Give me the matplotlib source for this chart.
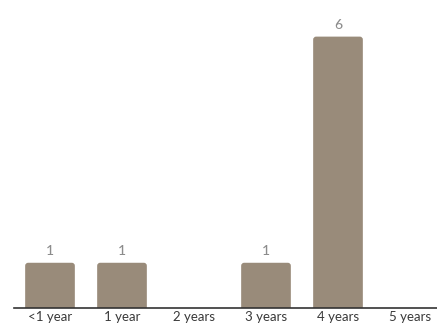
import matplotlib
matplotlib.use("Agg")
import matplotlib.pyplot as plt
from matplotlib.patches import FancyBboxPatch

categories = ["<1 year", "1 year", "2 years", "3 years", "4 years", "5 years"]
values = [1, 1, 0, 1, 6, 0]

bar_color = "#998b7a"
label_color = "#8c8c8c"
tick_color = "#3a3a3a"

plt.rcParams["font.family"] = ["Lato", "DejaVu Sans"]

fig = plt.figure(figsize=(4.37, 3.25), dpi=100)
ax = fig.add_axes([14 / 437, 17 / 325, 432 / 437, 294 / 325])
ax.set_xlim(-0.5, len(categories) - 0.5)
ax.set_ylim(0, 6.5)

width = 0.69
bars = ax.bar(range(len(categories)), values, width=width, color=bar_color)

# Replace plain rectangles with top-rounded versions (bottom hidden below the axis)
x_per_px = 6.0 / 432
y_per_px = 6.5 / 294
for rect, v in zip(bars, values):
    rect.set_visible(False)
    if v <= 0:
        continue
    x0 = rect.get_x()
    pad = 4 * y_per_px
    patch = FancyBboxPatch(
        (x0, -pad), width, v + pad,
        boxstyle=f"round,pad=0,rounding_size={3 * x_per_px}",
        mutation_aspect=y_per_px / x_per_px,
        facecolor=bar_color, edgecolor="none", clip_on=True,
    )
    ax.add_patch(patch)
    ax.text(rect.get_x() + width / 2, v + 12 * y_per_px, str(v),
            ha="center", va="center", fontsize=10, color=label_color,
            fontweight="medium")

ax.set_xticks(range(len(categories)))
ax.set_xticklabels(categories, fontsize=9.5, color=tick_color)
ax.tick_params(axis="x", length=0, pad=2)
ax.set_yticks([])
for side in ("top", "right", "left"):
    ax.spines[side].set_visible(False)
ax.spines["bottom"].set_color("#333333")
ax.spines["bottom"].set_linewidth(1.2)

fig.savefig("out.png", dpi=100)
